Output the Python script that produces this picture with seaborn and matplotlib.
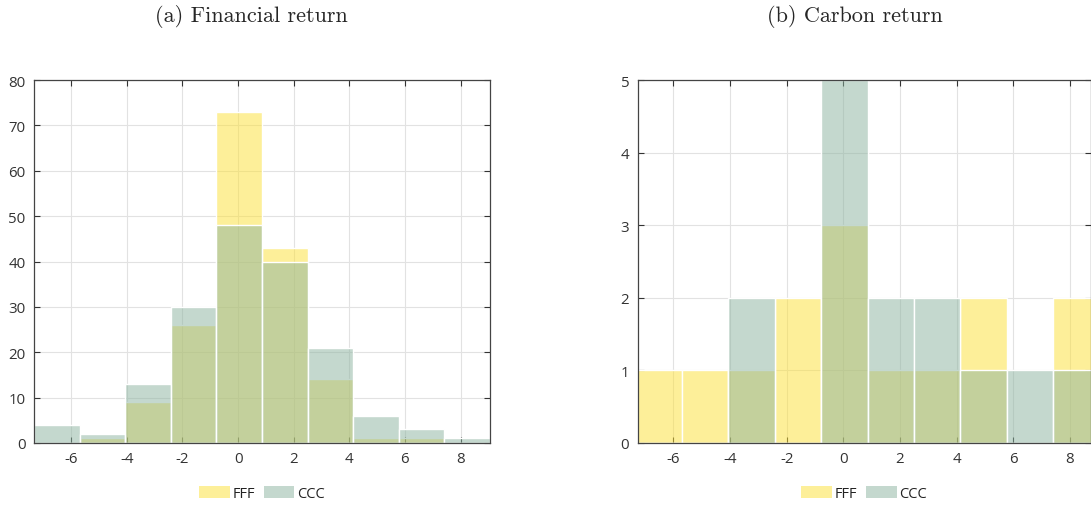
import numpy as np
import pandas as pd
import matplotlib
matplotlib.use("Agg")
import matplotlib.pyplot as plt
from matplotlib.patches import Patch
import seaborn as sns

# ---- data ----
bin_edges = list(np.linspace(-7.34, 9.06, 11))
fin_fff = [0, 1, 9, 26, 73, 43, 14, 1, 1, 0]
fin_ccc = [4, 2, 13, 30, 48, 40, 21, 6, 3, 1]
carb_fff = [1, 1, 1, 2, 3, 1, 1, 2, 0, 2]
carb_ccc = [0, 0, 2, 0, 5, 2, 2, 1, 1, 1]
x_ticks = [-6, -4, -2, 0, 2, 4, 6, 8]
titles = ["(a) Financial return", "(b) Carbon return"]
series_names = ["FFF", "CCC"]

sns.set_style("white")
plt.rcParams["font.family"] = ["Open Sans", "DejaVu Sans"]
plt.rcParams["axes.unicode_minus"] = False

col_f = (253/255, 225/255, 53/255)
col_c = (139/255, 179/255, 159/255)
alpha = 0.5
tick_col = "#333333"

fig = plt.figure(figsize=(10.91, 5.06), dpi=100)
W, H = 1091, 506
ax_a = fig.add_axes([34/W, (506-444)/H, 456/W, 363/H])
ax_b = fig.add_axes([637.5/W, (506-444)/H, 453.5/W, 363/H])

edges_arr = np.array(bin_edges)
centers = (edges_arr[:-1] + edges_arr[1:]) / 2

def draw(ax, fff, ccc, ymax, ystep, xlim):
    for name, col, vals in zip(series_names, [col_f, col_c], [fff, ccc]):
        sub = pd.DataFrame({"x": centers, "w": np.asarray(vals, dtype=float)})
        sns.histplot(data=sub, x="x", weights="w", bins=bin_edges, ax=ax,
                     color=col, alpha=alpha, edgecolor="white", linewidth=1.0,
                     element="bars", fill=True, zorder=2)
    ax.set_xlim(*xlim)
    ax.set_ylim(0, ymax)
    ax.set_xticks(x_ticks)
    ax.set_xticklabels([str(t) for t in x_ticks])
    ax.set_yticks(np.arange(0, ymax + ystep / 2, ystep))
    ax.set_xlabel("")
    ax.set_ylabel("")
    ax.grid(True, color="#e2e2e2", linewidth=0.8, zorder=0)
    ax.set_axisbelow(True)
    ax.tick_params(direction="in", length=4, width=0.8, colors=tick_col,
                   labelsize=10.8, top=True, right=True, bottom=True, left=True,
                   labelcolor="#333333", pad=6)
    for sp in ax.spines.values():
        sp.set_visible(True)
        sp.set_color("#444444")
        sp.set_linewidth(0.9)
    handles = [Patch(facecolor=col_f, alpha=alpha, edgecolor="none"),
               Patch(facecolor=col_c, alpha=alpha, edgecolor="none")]
    ax.legend(handles, series_names, loc="upper center", bbox_to_anchor=(0.5, -0.09),
              ncol=2, frameon=False, fontsize=10.5, handlelength=2.1, handleheight=0.9,
              handletextpad=0.2, columnspacing=0.6, labelcolor="#222222",
              borderpad=0.2)

draw(ax_a, fin_fff, fin_ccc, 80, 10, (bin_edges[0], bin_edges[-1]))
draw(ax_b, carb_fff, carb_ccc, 5, 1, (-7.27, 8.75))

fig.text(251/W, 1 - 17/H, titles[0], ha="center", va="center",
         family=["cmr10", "DejaVu Serif"], fontsize=16)
fig.text(855/W, 1 - 17/H, titles[1], ha="center", va="center",
         family=["cmr10", "DejaVu Serif"], fontsize=16)

fig.savefig("out.png", dpi=100)
